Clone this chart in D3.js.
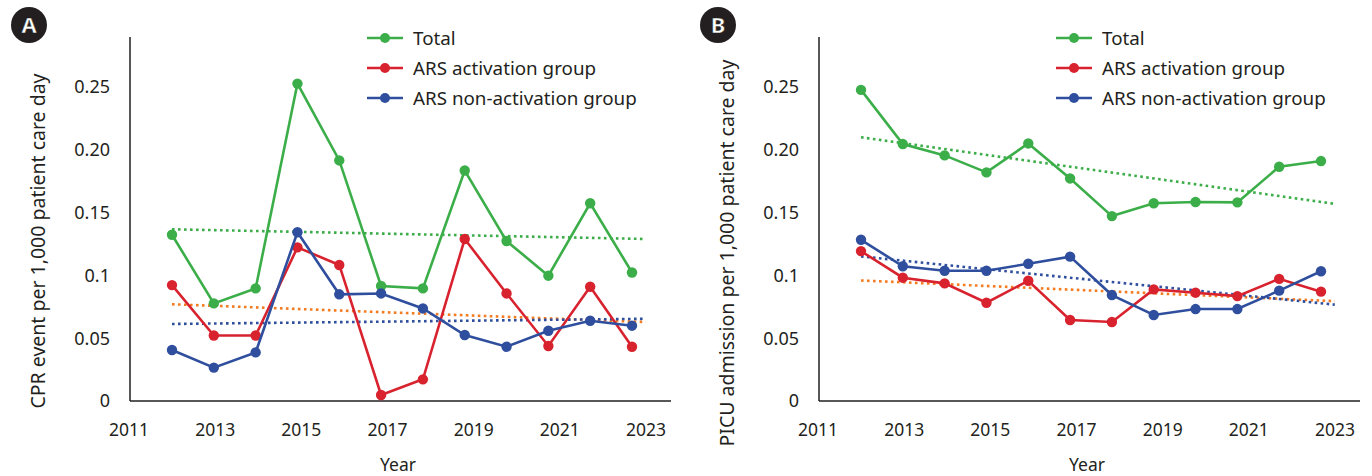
<!DOCTYPE html>
<html>
<head>
<meta charset="utf-8">
<script src="https://cdn.jsdelivr.net/npm/d3@7"></script>
<style>
  body { margin: 0; background: #fff; }
  text { font-family: "Noto Sans", sans-serif; fill: #231f20; }
</style>
</head>
<body>
<svg width="1372" height="476"></svg>
<script>
/* Data */
const years = [2012, 2013, 2014, 2015, 2016, 2017, 2018, 2019, 2020, 2021, 2022, 2023];
const yearTicks = [2011, 2013, 2015, 2017, 2019, 2021, 2023];
const yTicks = [0, 0.05, 0.1, 0.15, 0.2, 0.25];
const yTickLabels = ['0', '0.05', '0.1', '0.15', '0.20', '0.25'];
const seriesNames = ['Total', 'ARS activation group', 'ARS non-activation group'];

// A: CPR events
const cprTotal = [0.132, 0.0775, 0.0894, 0.252, 0.191, 0.0913, 0.0894, 0.183, 0.127, 0.0995, 0.157, 0.102];
const cprActivation = [0.092, 0.052, 0.052, 0.122, 0.108, 0.0048, 0.0172, 0.1286, 0.0854, 0.0437, 0.0907, 0.0431];
const cprNonActivation = [0.0405, 0.0265, 0.0386, 0.134, 0.0847, 0.0854, 0.0735, 0.0524, 0.0431, 0.0558, 0.0637, 0.0598];

// B: PICU admissions
const picuTotal = [0.247, 0.204, 0.195, 0.1815, 0.2045, 0.1767, 0.1468, 0.157, 0.158, 0.1577, 0.186, 0.1905];
const picuActivation = [0.119, 0.0979, 0.0934, 0.078, 0.0955, 0.0643, 0.0627, 0.0886, 0.086, 0.0833, 0.097, 0.0868];
const picuNonActivation = [0.128, 0.107, 0.1034, 0.1034, 0.109, 0.1146, 0.0841, 0.0683, 0.073, 0.073, 0.0876, 0.103];

const colors = ['#3cae49', '#d8232f', '#2f4f9e'];
const trendColors = ['#3cae49', '#f47b20', '#2f4f9e'];

const svg = d3.select('svg');

// least squares trend over the years
function trend(vals) {
    const mx = d3.mean(years), my = d3.mean(vals);
    let num = 0, den = 0;
    years.forEach((x, i) => { num += (x - mx) * (vals[i] - my); den += (x - mx) * (x - mx); });
    const b = num / den;
    return x => my + b * (x - mx);
}

function panel(offset, letter, yTitle, yTitleY, series) {
    const g = svg.append('g').attr('transform', `translate(${offset},0)`);

    const y = d3.scaleLinear().domain([0, 0.289]).range([401, 37]);
    const xAxisScale = d3.scaleLinear().domain([2011, 2023]).range([129, 646]);
    const x = d3.scaleLinear().domain([2012, 2023]).range([172, 632]);

    // axes lines
    g.append('line').attr('x1', 130).attr('x2', 130).attr('y1', 37).attr('y2', 401)
        .attr('stroke', '#231f20').attr('stroke-width', 1.5);
    g.append('line').attr('x1', 130).attr('x2', 671).attr('y1', 401).attr('y2', 401)
        .attr('stroke', '#231f20').attr('stroke-width', 1.5);

    g.selectAll('.ytick')
        .data(yTicks)
        .join('text')
        .attr('class', 'ytick')
        .attr('x', 110)
        .attr('y', d => y(d))
        .attr('dy', '0.36em')
        .attr('text-anchor', 'end')
        .style('font-size', '18px')
        .text((d, i) => yTickLabels[i]);

    g.selectAll('.xtick')
        .data(yearTicks)
        .join('text')
        .attr('class', 'xtick')
        .attr('x', d => xAxisScale(d))
        .attr('y', 436)
        .attr('text-anchor', 'middle')
        .style('font-size', '17.5px')
        .text(d => d);

    g.append('text')
        .attr('x', 398).attr('y', 471)
        .attr('text-anchor', 'middle')
        .style('font-size', '17.5px')
        .text('Year');

    g.append('text')
        .attr('transform', `translate(45,${yTitleY}) rotate(-90)`)
        .attr('text-anchor', 'middle')
        .style('font-size', '19.5px')
        .text(yTitle);

    // trend lines
    series.forEach((vals, i) => {
        const f = trend(vals);
        g.append('line')
            .attr('x1', x(2012)).attr('y1', y(f(2012)))
            .attr('x2', x(2023.33)).attr('y2', y(f(2023.33)))
            .attr('stroke', trendColors[i])
            .attr('stroke-width', 2.6)
            .attr('stroke-dasharray', '2.6,3.4');
    });

    // series lines and markers
    const line = d3.line().x((d, i) => x(years[i])).y(d => y(d));
    series.forEach((vals, i) => {
        g.append('path')
            .datum(vals)
            .attr('d', line)
            .attr('fill', 'none')
            .attr('stroke', colors[i])
            .attr('stroke-width', 2.6);
        g.selectAll('.pt' + i)
            .data(vals)
            .join('circle')
            .attr('class', 'pt' + i)
            .attr('cx', (d, j) => x(years[j]))
            .attr('cy', d => y(d))
            .attr('r', 5.2)
            .attr('fill', colors[i]);
    });

    // legend
    const lg = g.selectAll('.legend')
        .data(seriesNames)
        .join('g')
        .attr('class', 'legend')
        .attr('transform', (d, i) => `translate(0,${38 + i * 30})`);
    lg.append('line')
        .attr('x1', 367).attr('x2', 403)
        .attr('stroke', (d, i) => colors[i])
        .attr('stroke-width', 2.6);
    lg.append('circle')
        .attr('cx', 385).attr('r', 5)
        .attr('fill', (d, i) => colors[i]);
    lg.append('text')
        .attr('x', 413)
        .attr('dy', '0.36em')
        .style('font-size', '18.8px')
        .text(d => d);

    // panel letter
    g.append('circle').attr('cx', 29).attr('cy', 25).attr('r', 18).attr('fill', '#231f20');
    g.append('text')
        .attr('x', 29).attr('y', 25).attr('dy', '0.36em')
        .attr('text-anchor', 'middle')
        .style('font-size', '22px')
        .style('font-weight', 'bold')
        .style('fill', '#fff')
        .style('stroke', '#231f20')
        .style('stroke-width', 0.5)
        .text(letter);
}

panel(0, 'A', 'CPR event per 1,000 patient care day', 241, [cprTotal, cprActivation, cprNonActivation]);
panel(689, 'B', 'PICU admission per 1,000 patient care day', 253, [picuTotal, picuActivation, picuNonActivation]);
</script>
</body>
</html>
